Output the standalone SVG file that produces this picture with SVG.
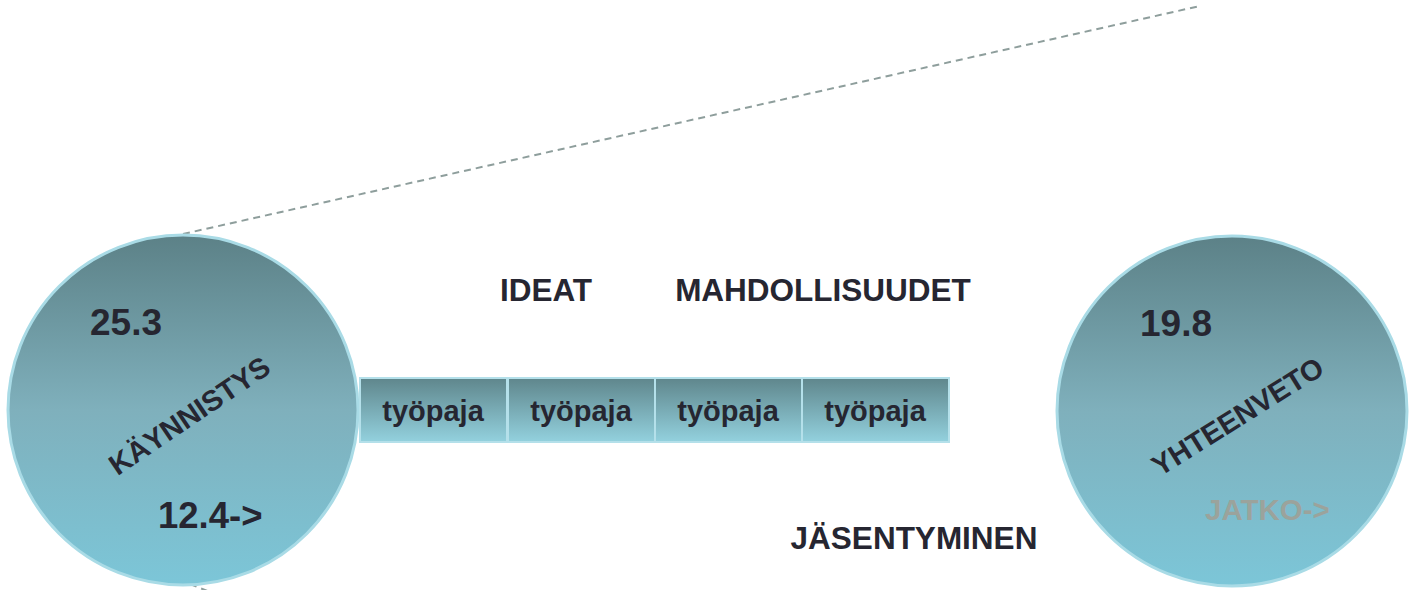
<svg xmlns="http://www.w3.org/2000/svg" width="1412" height="590" viewBox="0 0 1412 590">
<defs>
<linearGradient id="cg" x1="0" y1="0" x2="0" y2="1">
<stop offset="0" stop-color="#5c8187"/>
<stop offset="0.5" stop-color="#7fb0bc"/>
<stop offset="1" stop-color="#7cc6d8"/>
</linearGradient>
<linearGradient id="bg" x1="0" y1="0" x2="0" y2="1">
<stop offset="0" stop-color="#5f868c"/>
<stop offset="1" stop-color="#93d1de"/>
</linearGradient>
<style>
.t{font-family:"Liberation Sans",Arial,sans-serif;font-weight:bold;fill:#262631}
.circ{fill:url(#cg);stroke:#a9dbe6;stroke-width:3}
.box{fill:url(#bg);stroke:#b4e0ea;stroke-width:2}
.dash{stroke:#8e9e9c;stroke-width:2;stroke-dasharray:7 5;fill:none}
</style>
</defs>
<g id="connectors">
<line class="dash" x1="183" y1="234" x2="1200" y2="6"/>
<line class="dash" x1="190" y1="584" x2="210" y2="592"/>
</g>
<g id="kaynnistys">
<circle class="circ" cx="183" cy="410" r="175"/>
<text class="t" x="90" y="335" font-size="37">25.3</text>
<text class="t" x="158" y="528" font-size="36.5">12.4-&gt;</text>
<text class="t" font-size="29" text-anchor="middle" transform="translate(195,424) rotate(-34)">KÄYNNISTYS</text>
</g>
<g id="tyopaja1"><rect class="box" x="360" y="378" width="147" height="64"/><text class="t" x="433" y="421" font-size="29" text-anchor="middle">työpaja</text></g>
<g id="tyopaja2"><rect class="box" x="508" y="378" width="147" height="64"/><text class="t" x="581" y="421" font-size="29" text-anchor="middle">työpaja</text></g>
<g id="tyopaja3"><rect class="box" x="655" y="378" width="147" height="64"/><text class="t" x="728" y="421" font-size="29" text-anchor="middle">työpaja</text></g>
<g id="tyopaja4"><rect class="box" x="802" y="378" width="147" height="64"/><text class="t" x="875" y="421" font-size="29" text-anchor="middle">työpaja</text></g>
<g id="ideat"><text class="t" x="546" y="301" font-size="31.5" text-anchor="middle">IDEAT</text></g>
<g id="mahdollisuudet"><text class="t" x="823" y="301" font-size="31.5" text-anchor="middle">MAHDOLLISUUDET</text></g>
<g id="jasentyminen"><text class="t" x="914" y="549" font-size="31.5" text-anchor="middle">JÄSENTYMINEN</text></g>
<g id="yhteenveto">
<circle class="circ" cx="1232" cy="411" r="175"/>
<text class="t" x="1140" y="336" font-size="37">19.8</text>
<text class="t" x="1205" y="520" font-size="29.5" style="fill:#9ba39c">JATKO-&gt;</text>
<text class="t" font-size="29" text-anchor="middle" transform="translate(1243,425) rotate(-32)">YHTEENVETO</text>
</g>
</svg>
